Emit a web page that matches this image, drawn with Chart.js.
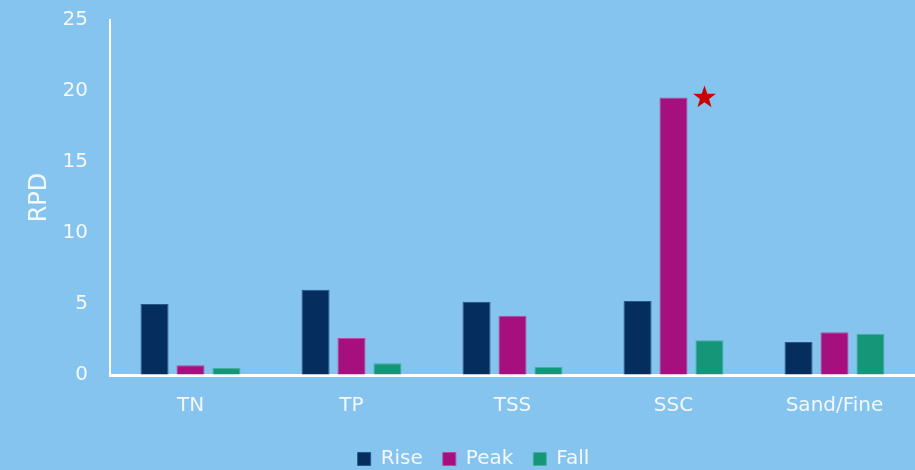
<!DOCTYPE html>
<html lang="en">
<head>
  <meta charset="UTF-8">
  <title>RPD by constituent</title>
  <script src="https://cdn.jsdelivr.net/npm/chart.js@4/dist/chart.umd.min.js"></script>
  <style>
    html, body { margin: 0; padding: 0; background: #85c4ef; }
    .chart-container { width: 915px; height: 470px; }
  </style>
</head>
<body>
<div class="chart-container">
  <canvas id="rpdChart"></canvas>
</div>

<script>
  // categories and RPD values per hydrograph limb
  const categories = ['TN', 'TP', 'TSS', 'SSC', 'Sand/Fine'];
  const riseValues = [5.0, 6.0, 5.15, 5.22, 2.33];
  const peakValues = [0.68, 2.61, 4.17, 19.54, 3.01];
  const fallValues = [0.49, 0.82, 0.56, 2.45, 2.9];
  const yTicks = [0, 5, 10, 15, 20, 25];

  // the highlighted bar (dataset index, category index)
  const flagged = { dataset: 1, index: 3 };

  const textColor = '#f4f8fb';
  const fontFamily = '"DejaVu Sans", "Open Sans", sans-serif';

  // draws a filled red star beside the flagged bar
  const starPlugin = {
    id: 'starMarker',
    afterLayout(chart) {
      // nudge the legend a little right of centre
      if (chart.legend) {
        chart.legend.left += 16;
        chart.legend.right += 16;
      }
    },
    afterDatasetsDraw(chart) {
      const bar = chart.getDatasetMeta(flagged.dataset).data[flagged.index];
      if (!bar) return;
      const ctx = chart.ctx;
      const cx = bar.x + 31;
      const cy = bar.y;
      const outer = 12, inner = 4.8;
      ctx.save();
      ctx.beginPath();
      for (let i = 0; i < 10; i++) {
        const r = i % 2 === 0 ? outer : inner;
        const a = -Math.PI / 2 + i * Math.PI / 5;
        const px = cx + r * Math.cos(a);
        const py = cy + r * Math.sin(a);
        if (i === 0) ctx.moveTo(px, py); else ctx.lineTo(px, py);
      }
      ctx.closePath();
      ctx.fillStyle = '#cc0000';
      ctx.fill();
      ctx.restore();
    }
  };

  const ctx = document.getElementById('rpdChart').getContext('2d');
  new Chart(ctx, {
    type: 'bar',
    data: {
      labels: categories,
      datasets: [
        { label: 'Rise', data: riseValues, backgroundColor: '#052e5e', borderColor: '#27578a', borderWidth: 1 },
        { label: 'Peak', data: peakValues, backgroundColor: '#a5107e', borderColor: '#b94a9e', borderWidth: 1 },
        { label: 'Fall', data: fallValues, backgroundColor: '#169679', borderColor: '#45b0a0', borderWidth: 1 }
      ]
    },
    options: {
      responsive: true,
      maintainAspectRatio: false,
      animation: false,
      categoryPercentage: 0.67,
      barPercentage: 0.78,
      layout: { padding: { top: 0, right: 0, left: 0, bottom: -9 } },
      plugins: {
        tooltip: { enabled: false },
        legend: {
          position: 'bottom',
          labels: {
            color: textColor,
            font: { family: fontFamily, size: 20 },
            boxWidth: 13,
            boxHeight: 13,
            padding: 20,
            useBorderRadius: false
          }
        }
      },
      scales: {
        x: {
          afterFit(scale) { scale.height -= 8; },
          grid: { display: false, drawTicks: false },
          border: { display: true, color: '#ffffff', width: 3 },
          ticks: { color: textColor, font: { family: fontFamily, size: 20 }, padding: 19 }
        },
        y: {
          min: 0,
          max: 25,
          afterBuildTicks(scale) {
            scale.ticks = yTicks.map(v => ({ value: v }));
          },
          afterFit(scale) { scale.width = 110; },
          // invisible tick marks keep the labels clear of the axis line
          grid: { display: true, color: 'rgba(0,0,0,0)', drawOnChartArea: false, drawTicks: true, tickLength: 14 },
          border: { display: true, color: '#ffffff', width: 2 },
          ticks: { color: textColor, font: { family: fontFamily, size: 20 }, padding: 8 },
          title: {
            display: true,
            text: 'RPD',
            color: textColor,
            font: { family: fontFamily, size: 24 },
            padding: { top: 25, bottom: 0 }
          }
        }
      }
    },
    plugins: [starPlugin]
  });
</script>
</body>
</html>
